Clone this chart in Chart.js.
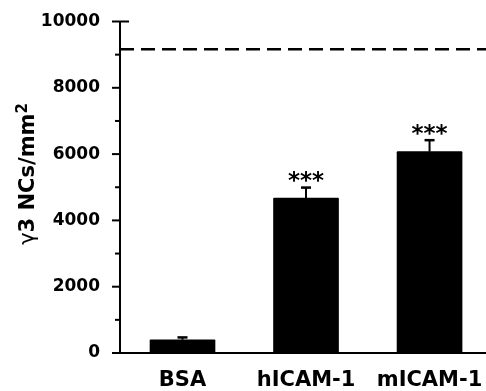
<!DOCTYPE html>
<html>
<head>
<meta charset="utf-8">
<script src="https://cdn.jsdelivr.net/npm/chart.js@4.4.1/dist/chart.umd.min.js"></script>
<style>
    html, body { margin: 0; padding: 0; background: #fff; }
    #ncChart { display: block; }
</style>
</head>
<body>
<canvas id="ncChart" width="486" height="391"></canvas>
<script>
// ===== DATA =====
const categories = ['BSA', 'hICAM-1', 'mICAM-1'];
const means = [400, 4670, 6075];
const upperErrors = [470, 4990, 6420];
const significance = ['', '***', '***'];
const referenceLevel = 9160;
const yMin = 0;
const yMax = 10000;
const yStep = 1000;
const yLabelStep = 2000;

const FONT = '"DejaVu Sans", sans-serif';

// ===== EXTRAS: ticks, reference line, error bars, stars, axis title =====
const extrasPlugin = {
    id: 'extras',

    beforeDraw(chart) {
        const ctx = chart.ctx;
        ctx.save();
        ctx.fillStyle = '#fff';
        ctx.fillRect(0, 0, chart.width, chart.height);
        ctx.restore();
    },

    afterDraw(chart) {
        const { ctx, chartArea } = chart;
        const y = chart.scales.y;
        const meta = chart.getDatasetMeta(0);

        ctx.save();
        ctx.strokeStyle = '#000';
        ctx.fillStyle = '#000';

        // Dashed reference line
        const yRef = y.getPixelForValue(referenceLevel);
        ctx.lineWidth = 2.5;
        ctx.setLineDash([14, 7]);
        ctx.beginPath();
        ctx.moveTo(chartArea.left, yRef);
        ctx.lineTo(chartArea.right, yRef);
        ctx.stroke();
        ctx.setLineDash([]);

        // Y tick marks (major / minor)
        ctx.lineWidth = 2;
        y.ticks.forEach(t => {
            const py = y.getPixelForValue(t.value);
            const len = t.value % yLabelStep === 0 ? 8 : 5;
            const end = t.value === yMax ? chartArea.left + 9 : chartArea.left;
            ctx.beginPath();
            ctx.moveTo(chartArea.left - len, py);
            ctx.lineTo(end, py);
            ctx.stroke();
        });

        // Error bars + significance stars
        meta.data.forEach((bar, i) => {
            const top = y.getPixelForValue(upperErrors[i]);
            ctx.lineWidth = 2;
            ctx.beginPath();
            ctx.moveTo(bar.x, bar.y);
            ctx.lineTo(bar.x, top);
            ctx.stroke();
            ctx.lineWidth = 2.5;
            ctx.beginPath();
            ctx.moveTo(bar.x - 5, top);
            ctx.lineTo(bar.x + 5, top);
            ctx.stroke();

            if (significance[i]) {
                ctx.font = 'bold 23px ' + FONT;
                ctx.textAlign = 'center';
                ctx.textBaseline = 'alphabetic';
                ctx.fillText(significance[i], bar.x, top + 0.5);
            }
        });

        // Y axis title: γ3 NCs/mm²
        ctx.translate(33.5, 174);
        ctx.rotate(-Math.PI / 2);
        ctx.textAlign = 'left';
        ctx.textBaseline = 'alphabetic';
        const parts = [
            { text: 'γ', font: '21px ' + FONT, dy: 0 },
            { text: '3 NCs/mm', font: 'bold 21px ' + FONT, dy: 0 },
            { text: '2', font: 'bold 15px ' + FONT, dy: -7 }
        ];
        let total = 0;
        parts.forEach(p => {
            ctx.font = p.font;
            p.w = ctx.measureText(p.text).width;
            total += p.w;
        });
        let sx = -total / 2;
        parts.forEach(p => {
            ctx.font = p.font;
            ctx.fillText(p.text, sx, p.dy);
            sx += p.w;
        });

        ctx.restore();
    }
};

// ===== CHART =====
const ctx = document.getElementById('ncChart');

new Chart(ctx, {
    type: 'bar',
    data: {
        datasets: [{
            label: 'γ3 NCs/mm2',
            data: means.map((v, i) => ({ x: i, y: v })),
            backgroundColor: '#000',
            borderColor: '#000',
            borderWidth: 0,
            borderRadius: 1,
            borderSkipped: 'bottom',
            barThickness: 65
        }]
    },
    options: {
        responsive: false,
        animation: false,
        devicePixelRatio: 1,
        layout: {
            padding: { top: 21.5, left: 0, right: 0, bottom: 0 }
        },
        plugins: {
            legend: { display: false },
            tooltip: { enabled: false }
        },
        scales: {
            x: {
                type: 'linear',
                offset: false,
                bounds: 'data',
                min: -0.506,
                max: 2.457,
                grid: { display: false, drawTicks: false, offset: false },
                border: { display: true, color: '#000', width: 2 },
                afterBuildTicks(scale) {
                    scale.ticks = categories.map((c, i) => ({ value: i }));
                },
                afterFit(scale) {
                    scale.height = 38;
                    scale.paddingLeft = 0;
                    scale.paddingRight = 0;
                },
                ticks: {
                    autoSkip: false,
                    maxRotation: 0,
                    padding: 15,
                    color: '#000',
                    font: { family: FONT, size: 21, weight: 'bold' },
                    callback: function(value) {
                        return categories[value] !== undefined ? categories[value] : '';
                    }
                }
            },
            y: {
                min: yMin,
                max: yMax,
                grid: { drawOnChartArea: false, drawTicks: false },
                border: { display: true, color: '#000', width: 2 },
                afterFit(scale) {
                    scale.width = 120;
                    scale.paddingTop = 0;
                    scale.paddingBottom = 0;
                },
                ticks: {
                    stepSize: yStep,
                    autoSkip: false,
                    padding: 20,
                    color: '#000',
                    font: { family: FONT, size: 17, weight: 'bold' },
                    callback: function(value) {
                        return value % yLabelStep === 0 ? value : '';
                    }
                }
            }
        }
    },
    plugins: [extrasPlugin]
});
</script>
</body>
</html>
